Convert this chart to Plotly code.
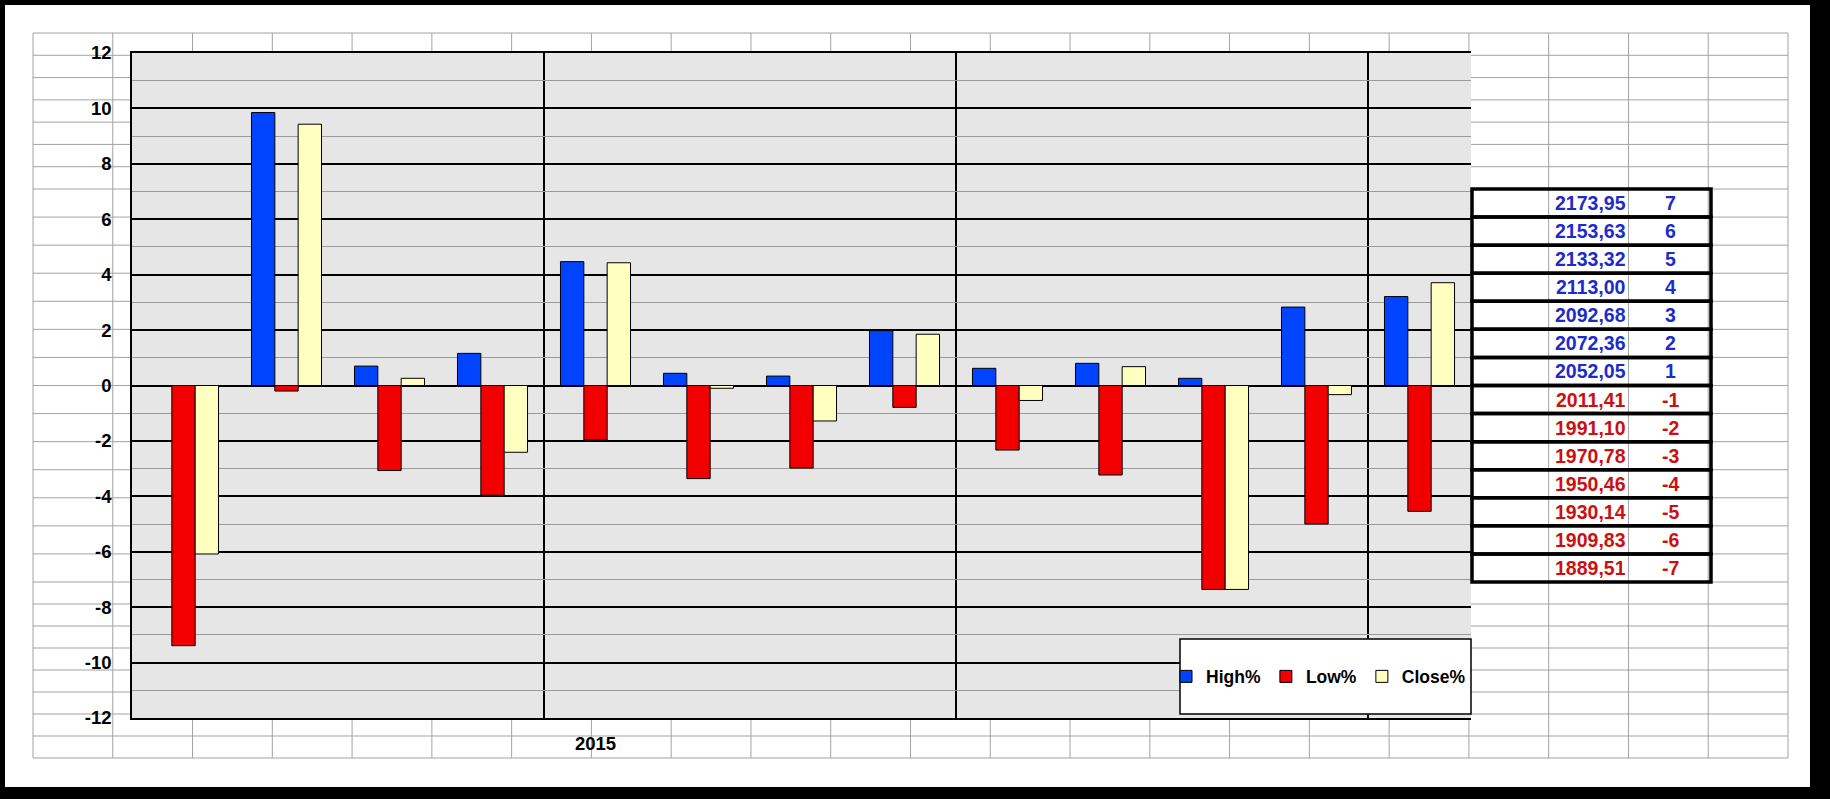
import plotly.graph_objects as go

# ---------------- data ----------------
periods = list(range(13))
high_pct = [0.0, 9.85, 0.70, 1.16, 4.47, 0.44, 0.34, 1.98, 0.62, 0.80, 0.26, 2.83, 3.21]
low_pct = [-9.39, -0.20, -3.07, -3.96, -1.97, -3.36, -2.98, -0.79, -2.33, -3.23, -7.36, -5.00, -4.54]
close_pct = [-6.08, 9.43, 0.26, -2.41, 4.43, -0.10, -1.28, 1.85, -0.54, 0.68, -7.36, -0.33, 3.71]
x_tick_positions = [4]
x_tick_labels = ["2015"]
group_boundaries = [3.5, 7.5, 11.5]
y_tick_values = [12, 10, 8, 6, 4, 2, 0, -2, -4, -6, -8, -10, -12]
y_tick_labels = ["12", "10", "8", "6", "4", "2", "0", "-2", "-4", "-6", "-8", "-10", "-12"]
level_prices = ["2173,95", "2153,63", "2133,32", "2113,00", "2092,68", "2072,36", "2052,05",
                "2011,41", "1991,10", "1970,78", "1950,46", "1930,14", "1909,83", "1889,51"]
level_steps = [7, 6, 5, 4, 3, 2, 1, -1, -2, -3, -4, -5, -6, -7]

# ---------------- geometry helpers (pixels -> paper) ----------------
W, H = 1830, 799
PL, PR, PT, PB = 132, 1471, 53, 718
PW, PH = PR - PL, PB - PT


def xp(px):
    return (px - PL) / PW


def yp(py):
    return (PB - py) / PH


FONT = "Liberation Sans, Arial, sans-serif"
BLUE, RED, YELLOW = "#0044ff", "#f20000", "#ffffc0"
GRID = "#a3a3a3"

fig = go.Figure()
fig.add_trace(go.Bar(x=periods, y=high_pct, name="High%",
                     marker=dict(color=BLUE, line=dict(color="black", width=1))))
fig.add_trace(go.Bar(x=periods, y=low_pct, name="Low%",
                     marker=dict(color=RED, line=dict(color="black", width=1))))
fig.add_trace(go.Bar(x=periods, y=close_pct, name="Close%",
                     marker=dict(color=YELLOW, line=dict(color="black", width=1))))

shapes = []
# white sheet inside the black frame
shapes.append(dict(type="rect", xref="paper", yref="paper", x0=xp(5), x1=xp(1810), y0=yp(787), y1=yp(5),
                   fillcolor="white", line=dict(width=0), layer="below"))
# spreadsheet cell grid
col_x = [33 + k * (1755 / 22) for k in range(23)]
row_y = [33 + i * (156 / 7) for i in range(8)] + [189 + j * (393 / 14) for j in range(1, 15)] + \
        [582 + m * 22 for m in range(1, 9)]
for cx in col_x:
    shapes.append(dict(type="line", xref="paper", yref="paper", x0=xp(cx), x1=xp(cx), y0=yp(33), y1=yp(758),
                       line=dict(color=GRID, width=1), layer="below"))
for ry in row_y:
    shapes.append(dict(type="line", xref="paper", yref="paper", x0=xp(33), x1=xp(1788), y0=yp(ry), y1=yp(ry),
                       line=dict(color=GRID, width=1), layer="below"))
# plot area background
shapes.append(dict(type="rect", xref="paper", yref="paper", x0=0, x1=1, y0=0, y1=1,
                   fillcolor="#e6e6e6", line=dict(width=0), layer="below"))
# legend box
shapes.append(dict(type="rect", xref="paper", yref="paper", x0=xp(1180), x1=xp(1471), y0=yp(714), y1=yp(639),
                   fillcolor="white", line=dict(color="black", width=1.5), layer="above"))
# table rows
TL, TR, TT = 1472, 1711, 189
RH = 393 / 14
annotations = []
for i, (price, step) in enumerate(zip(level_prices, level_steps)):
    top = TT + i * RH
    shapes.append(dict(type="rect", xref="paper", yref="paper", x0=xp(TL), x1=xp(TR),
                       y0=yp(top + RH), y1=yp(top), line=dict(color="black", width=3.5), layer="above"))
    col = "#1c2ccc" if step > 0 else "#cc1010"
    annotations.append(dict(xref="paper", yref="paper", x=xp(1628), y=yp(top + RH / 2), text=price,
                            showarrow=False, xanchor="right", yanchor="middle",
                            font=dict(family=FONT, size=19.5, color=col, weight="bold")))
    annotations.append(dict(xref="paper", yref="paper", x=xp(1670), y=yp(top + RH / 2), text=str(step),
                            showarrow=False, xanchor="center", yanchor="middle",
                            font=dict(family=FONT, size=19.5, color=col, weight="bold")))

fig.update_layout(
    width=W, height=H,
    margin=dict(l=PL, r=W - PR, t=PT, b=H - PB, pad=0),
    paper_bgcolor="black",
    plot_bgcolor="rgba(0,0,0,0)",
    font=dict(family=FONT, color="black"),
    barmode="group", bargap=0.32, bargroupgap=0,
    showlegend=True,
    legend=dict(orientation="h", x=1, xanchor="right", y=yp(676.5), yanchor="middle",
                bgcolor="rgba(0,0,0,0)", borderwidth=0, itemwidth=30,
                font=dict(family=FONT, size=17.5, color="black", weight="bold")),
    shapes=shapes,
    annotations=annotations,
    xaxis=dict(range=[-0.5, 12.5], tickmode="array", tickvals=x_tick_positions, ticktext=x_tick_labels,
               showgrid=False, zeroline=False, showline=True, linecolor="black", linewidth=1.5, mirror=True,
               ticks="", ticklabelstandoff=8,
               tickfont=dict(family=FONT, size=18.5, color="black", weight="bold"),
               minor=dict(tickmode="array", tickvals=group_boundaries, showgrid=True,
                          gridcolor="black", gridwidth=1.5, ticks="")),
    yaxis=dict(range=[-12, 12], tickmode="array", tickvals=y_tick_values, ticktext=y_tick_labels,
               showgrid=True, gridcolor="black", gridwidth=1.5,
               zeroline=True, zerolinecolor="black", zerolinewidth=1.5,
               showline=True, linecolor="black", linewidth=1.5,
               ticks="", ticklabelstandoff=15,
               tickfont=dict(family=FONT, size=18.5, color="black", weight="bold"),
               minor=dict(tickmode="linear", tick0=0, dtick=1, showgrid=True, gridcolor="#9a9a9a", gridwidth=1)),
)

fig.write_html("out.html", config={"displayModeBar": False},
               post_script="document.body.style.margin='0';document.body.style.overflow='hidden';")
